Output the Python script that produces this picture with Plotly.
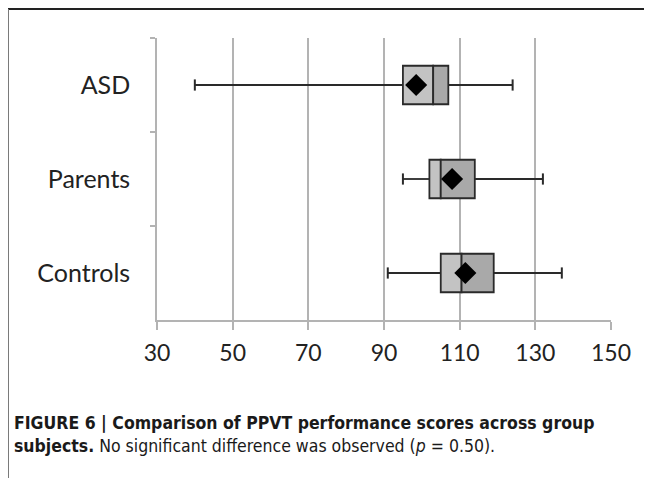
import plotly.graph_objects as go

groups = ["ASD", "Parents", "Controls"]
whisker_min = [40, 95, 91]
q1 = [95, 102, 105]
median = [103, 105, 110.5]
q3 = [107, 114, 119]
whisker_max = [124, 132, 137]
mean = [98.5, 108, 111.5]
x_ticks = [30, 50, 70, 90, 110, 130, 150]

# page has an 8px body margin; work in page pixels and subtract it
OFF = 8
W, H = 652 - OFF, 478 - OFF
ML, MT = 157 - OFF, 38 - OFF
PW, PH = 611 - 157, 320 - 38
MR, MB = W - ML - PW, H - MT - PH

def px(x):
    return (x - OFF - ML) / PW

def py(y):
    return 1 - (y - OFF - MT) / PH

fig = go.Figure()

# whiskers
wx, wy = [], []
for g, lo, a, b, hi in zip(groups, whisker_min, q1, q3, whisker_max):
    wx += [lo, a, None, b, hi, None]
    wy += [g, g, None, g, g, None]
fig.add_trace(go.Scatter(x=wx, y=wy, mode="lines", line=dict(color="#2a2a2a", width=1.8),
                         hoverinfo="skip", showlegend=False))
fig.add_trace(go.Scatter(x=whisker_min + whisker_max, y=groups + groups, mode="markers",
                         marker=dict(symbol="line-ns", size=8, line=dict(color="#2a2a2a", width=2)),
                         hoverinfo="skip", showlegend=False))

# box halves
fig.add_trace(go.Bar(y=groups, x=[m - a for m, a in zip(median, q1)], base=q1, orientation="h",
                     width=0.41, marker=dict(color="#c3c3c3", line=dict(color="#2a2a2a", width=1.8)),
                     showlegend=False))
fig.add_trace(go.Bar(y=groups, x=[b - m for b, m in zip(q3, median)], base=median, orientation="h",
                     width=0.41, marker=dict(color="#a9a9a9", line=dict(color="#2a2a2a", width=1.8)),
                     showlegend=False))

# mean
fig.add_trace(go.Scatter(x=mean, y=groups, mode="markers",
                         marker=dict(symbol="diamond", size=17, color="black"),
                         showlegend=False))

fig.update_layout(
    width=W, height=H,
    margin=dict(l=ML, r=MR, t=MT, b=MB),
    paper_bgcolor="white", plot_bgcolor="white",
    barmode="overlay",
    font=dict(family="Lato", color="#222222"),
)
fig.update_xaxes(range=[30, 150], tickvals=x_ticks, ticktext=[str(v) for v in x_ticks],
                 showgrid=True, gridcolor="#b3b3b3", gridwidth=1.6,
                 showline=True, linecolor="#b3b3b3", linewidth=1.6,
                 ticks="outside", ticklen=8, tickcolor="#b3b3b3", tickwidth=1.6,
                 tickfont=dict(size=23, family="Lato", color="#222222"),
                 ticklabelstandoff=4, zeroline=False)
fig.update_yaxes(type="category", categoryarray=groups, range=[2.5, -0.5],
                 showgrid=False, showline=True, linecolor="#b3b3b3", linewidth=1.6,
                 ticks="outside", tickson="boundaries", ticklen=5, tickcolor="#b3b3b3", tickwidth=1.6,
                 tickfont=dict(size=25, family="Lato", color="#222222"),
                 ticklabelstandoff=20, zeroline=False)

# figure frame
fig.add_shape(type="line", xref="paper", yref="paper", x0=px(7), x1=px(660), y0=py(9), y1=py(9),
              line=dict(color="#222222", width=2))
fig.add_shape(type="line", xref="paper", yref="paper", x0=px(8), x1=px(8), y0=py(9), y1=py(486),
              line=dict(color="#7a7a7a", width=2))

fig.add_annotation(
    xref="paper", yref="paper", x=px(12), y=py(411), xanchor="left", yanchor="top",
    align="left", showarrow=False,
    text="<b>FIGURE 6 | Comparison of PPVT performance scores across group</b><br>"
         "<b>subjects.</b> No significant difference was observed (<i>p</i> = 0.50).",
    font=dict(family="DejaVu Sans Condensed, Roboto, sans-serif", size=17.5, color="#1a1a1a"),
)

fig.write_html("out.html")
